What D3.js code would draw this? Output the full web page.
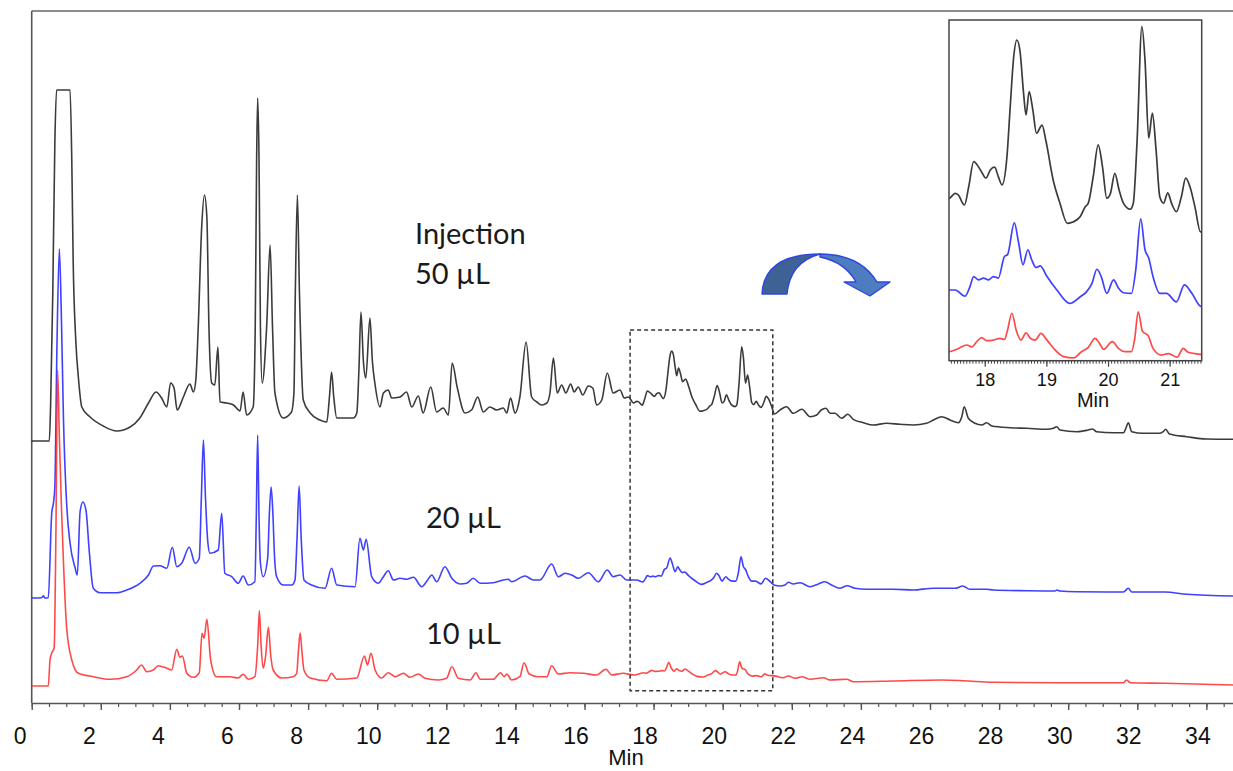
<!DOCTYPE html>
<html><head><meta charset="utf-8">
<script src="https://cdn.jsdelivr.net/npm/d3@7"></script>
<style>
html,body{margin:0;padding:0;background:#fff;}
svg{display:block;}
</style></head><body>
<svg id="chart" width="1233" height="771"></svg>
<script>
// ---------- DATA (time in min, signal in arbitrary units above each trace's baseline) ----------
const black50 = [[0,0],[0.51,0],[0.55,40],[0.61,148],[0.67,298],[0.72,351],[1.11,351],[1.16,281],[1.2,181],[1.28,98],[1.35,64],[1.45,34],[1.69,24],[2.07,15],[2.46,10],[2.85,14],[3.13,23],[3.38,38],[3.6,49],[3.76,43],[3.91,34],[4.02,58],[4.12,53],[4.21,31],[4.39,44],[4.58,57],[4.68,49],[4.75,61],[4.82,114],[4.92,214],[5.0,246],[5.07,224],[5.13,114],[5.21,58],[5.3,56],[5.39,94],[5.45,39],[5.64,38],[5.84,36],[6.03,30],[6.12,49],[6.22,26],[6.41,34],[6.47,114],[6.51,281],[6.54,343],[6.58,281],[6.62,114],[6.67,58],[6.8,114],[6.9,196],[6.97,114],[7.04,48],[7.28,23],[7.52,29],[7.59,48],[7.63,148],[7.69,246],[7.75,148],[7.86,41],[8.06,28],[8.34,21],[8.54,19],[8.62,45],[8.68,69],[8.74,45],[8.83,23],[9.31,23],[9.41,28],[9.47,70],[9.53,129],[9.6,80],[9.67,63],[9.79,123],[9.86,80],[9.94,56],[10.08,34],[10.18,48],[10.32,51],[10.42,43],[10.66,44],[10.85,49],[11.0,34],[11.19,45],[11.33,28],[11.55,54],[11.72,29],[11.91,33],[12.06,26],[12.17,78],[12.32,53],[12.54,28],[12.73,31],[12.91,44],[13.07,29],[13.26,34],[13.46,31],[13.65,33],[13.75,28],[13.86,43],[13.99,28],[14.13,44],[14.31,99],[14.47,44],[14.62,39],[14.76,36],[14.91,38],[15.0,48],[15.1,83],[15.21,48],[15.34,56],[15.46,48],[15.6,57],[15.7,49],[15.82,54],[15.95,46],[16.11,55],[16.24,53],[16.35,36],[16.5,41],[16.66,68],[16.83,48],[17.03,51],[17.15,43],[17.27,44],[17.42,38],[17.52,39.6],[17.57,39.1],[17.67,35.8],[17.74,41.8],[17.82,50],[17.93,47.3],[18.02,44.6],[18.09,47.3],[18.16,48.2],[18.22,45.1],[18.28,42.4],[18.36,51.6],[18.41,67],[18.47,84.4],[18.52,89.9],[18.57,86.6],[18.63,72.4],[18.67,65.3],[18.72,73],[18.78,67],[18.84,59.3],[18.93,62],[18.99,57.1],[19.11,44],[19.22,36.4],[19.34,29.8],[19.44,30.3],[19.55,32],[19.63,35.2],[19.68,36.4],[19.76,45.1],[19.84,55.5],[19.91,48.4],[19.98,38],[20.04,39.6],[20.11,46.2],[20.18,40.7],[20.25,36.4],[20.36,34.4],[20.41,36.4],[20.47,56.1],[20.55,94.3],[20.6,83.3],[20.66,57.7],[20.72,65.9],[20.78,53.8],[20.84,38.5],[20.9,36.4],[20.97,39.8],[21.03,36.4],[21.11,33.6],[21.19,38.5],[21.26,44.6],[21.33,41.8],[21.41,35.2],[21.5,27],[21.66,31],[21.85,34.3],[22.04,27.7],[22.29,31.7],[22.53,24.3],[22.72,26],[22.85,31],[22.99,32.7],[23.11,27.7],[23.25,27.7],[23.44,22.7],[23.62,26.7],[23.78,21.7],[24.07,18.3],[24.36,16],[24.75,17.7],[25.13,16.7],[25.52,16],[25.9,17.7],[26.1,21],[26.34,24.3],[26.58,21],[26.82,18.3],[26.92,24.3],[26.99,34.3],[27.11,22.7],[27.3,17.7],[27.5,16],[27.64,18.3],[27.79,15],[28.32,13.3],[28.8,12.7],[29.38,11.7],[29.57,12.7],[29.67,14.3],[29.76,11],[30.25,9.3],[30.58,11],[30.71,12],[30.82,9.3],[31.31,8.3],[31.6,8.3],[31.67,12.7],[31.74,18.3],[31.84,9.3],[32.17,7.7],[32.66,7.7],[32.75,9.3],[32.82,11.7],[32.93,7],[33.43,4.3],[34.0,2],[34.77,1.7]];

const blue20 = [[0,0],[0.29,0.3],[0.34,2.3],[0.38,0],[0.48,0.3],[0.58,85],[0.63,95],[0.67,111],[0.73,250],[0.8,349],[0.86,280],[0.92,178],[1.01,95],[1.11,55],[1.25,31],[1.32,23],[1.4,86],[1.48,96],[1.57,88],[1.67,45],[1.78,10],[1.98,5.3],[2.46,5.3],[2.75,8],[3.13,14.7],[3.38,23],[3.52,32],[3.71,32.3],[3.91,29.7],[4.07,50.7],[4.2,31.3],[4.34,34.7],[4.56,50.7],[4.73,34.7],[4.85,39.7],[4.91,100],[4.97,158],[5.03,100],[5.1,55],[5.16,44.7],[5.4,48],[5.5,84.7],[5.59,24.7],[5.79,21.3],[5.98,14.7],[6.12,22],[6.27,13],[6.46,16.3],[6.5,80],[6.54,163],[6.58,80],[6.62,35],[6.7,21.3],[6.83,40],[6.88,85],[6.93,111],[6.98,85],[7.03,40],[7.09,21.3],[7.28,13],[7.53,13],[7.62,18],[7.68,60],[7.74,112],[7.8,60],[7.88,18],[8.1,13],[8.49,9.7],[8.68,29.7],[8.83,13],[9.36,11.3],[9.5,59.7],[9.6,48],[9.68,58.7],[9.84,21.3],[10.03,14.7],[10.18,21.3],[10.32,27.3],[10.47,18],[10.66,19.7],[10.85,18.7],[11.05,20.7],[11.29,11.3],[11.46,18],[11.58,23],[11.72,16.3],[11.96,31.3],[12.16,19.7],[12.4,14],[12.59,14.7],[12.78,19.7],[12.98,14.7],[13.36,15.3],[13.65,18],[13.79,18.7],[13.89,16.3],[14.28,22],[14.52,18],[14.71,18],[15.05,34],[15.24,21.3],[15.44,24.7],[15.63,23],[15.82,19.7],[16.11,25.3],[16.4,16.3],[16.66,28],[16.83,21.3],[17.03,23],[17.22,18],[17.42,18],[17.52,18],[17.68,16],[17.76,19.1],[17.82,22.4],[17.9,21.3],[17.98,21.9],[18.06,21.3],[18.14,22.4],[18.22,21.9],[18.32,29],[18.37,29.6],[18.48,40],[18.55,33.4],[18.62,26.3],[18.7,31.2],[18.76,28],[18.83,25.4],[18.9,25.9],[19.01,22.4],[19.17,18],[19.38,13.6],[19.55,15.8],[19.65,17.4],[19.74,20.2],[19.82,24.8],[19.89,22.4],[19.98,16.9],[20.09,21.3],[20.17,18.6],[20.25,17.1],[20.38,16.9],[20.45,24.6],[20.53,41.3],[20.6,31.2],[20.66,28.5],[20.73,22.4],[20.84,16.9],[20.95,16.9],[21.11,14.1],[21.24,19.7],[21.36,16.9],[21.5,12.7],[21.66,12],[21.8,13],[21.9,15.7],[22.04,14],[22.24,15.3],[22.53,11.3],[22.77,14],[22.96,16.3],[23.15,13],[23.39,9.7],[23.6,12.3],[23.83,9.7],[24.17,8.7],[24.94,8.7],[25.52,8],[26.1,9.7],[26.73,9.7],[26.95,12],[27.15,8.7],[27.64,8.7],[27.83,8],[28.8,7.3],[29.62,7],[29.67,8],[29.76,7],[30.25,6.3],[31.6,6],[31.74,9.7],[31.84,6],[32.8,6],[33.43,3.7],[34.77,2]];

const red10 = [[0,0],[0.48,0],[0.53,26],[0.58,33],[0.65,38],[0.7,150],[0.75,316],[0.8,250],[0.86,180],[0.92,123],[1.01,59],[1.16,26],[1.35,12.7],[1.78,9.3],[2.27,6.7],[2.75,9.3],[3.04,16],[3.18,21],[3.33,14.3],[3.52,16],[3.66,20.3],[3.91,17.7],[4.05,16],[4.2,36.7],[4.29,28.7],[4.36,30],[4.49,12.7],[4.68,8.7],[4.85,13.3],[4.93,52.7],[4.99,47.7],[5.07,66.7],[5.18,26],[5.35,9.3],[5.74,9.3],[5.98,8],[6.12,11.7],[6.27,6.7],[6.46,9.3],[6.54,40],[6.59,75.3],[6.64,40],[6.7,17.7],[6.77,30],[6.85,58.7],[6.92,30],[6.99,16],[7.24,8],[7.57,9.3],[7.67,12.7],[7.72,35],[7.77,53.3],[7.82,35],[7.88,16],[8.06,8],[8.54,5.3],[8.68,12.7],[8.83,6.7],[9.41,8],[9.63,30],[9.72,21],[9.82,32.7],[9.94,16],[10.13,8],[10.32,13.3],[10.52,9.3],[10.76,12.7],[10.95,8.7],[11.19,12],[11.38,7.7],[11.77,6],[12.01,7.7],[12.16,19.3],[12.35,7.7],[12.69,6],[12.86,13.3],[12.98,6.7],[13.36,6.7],[13.57,13.3],[13.67,9.3],[13.75,12],[13.89,6],[14.13,9.3],[14.25,23.3],[14.4,12],[14.66,9.3],[14.91,9.3],[15.05,20.3],[15.24,12],[15.58,13.3],[15.97,12.7],[16.35,11],[16.62,16.7],[16.79,11],[17.12,12.7],[17.42,11],[17.55,11.8],[17.71,13.2],[17.79,12.6],[17.87,14.3],[17.95,15.6],[18.03,14.6],[18.14,14.8],[18.25,15.4],[18.32,15],[18.37,18.1],[18.44,23.6],[18.51,18.1],[18.59,14.8],[18.67,17.2],[18.74,15.4],[18.82,14.8],[18.91,17],[19.01,14.8],[19.14,11.6],[19.28,9.4],[19.44,9],[19.57,11],[19.68,12.4],[19.79,15.4],[19.86,13.8],[19.93,11.8],[20.07,14.3],[20.17,12.1],[20.28,11],[20.38,11],[20.43,14.8],[20.49,24.1],[20.56,17.6],[20.65,16.3],[20.73,12.1],[20.87,9.9],[20.98,10.4],[21.12,9.2],[21.22,12.1],[21.3,10.8],[21.5,10.1],[21.75,8.3],[21.9,10],[22.1,7.7],[22.29,9.3],[22.53,6.7],[22.92,8.3],[23.1,6],[23.59,6.7],[23.78,4.3],[24.94,5],[26.34,6],[26.97,5.3],[27.83,3.7],[29.76,3.3],[31.6,3.3],[31.69,6],[31.8,3.3],[32.8,2.7],[34.77,1]];

const majorTicks = [0,2,4,6,8,10,12,14,16,18,20,22,24,26,28,30,32,34];
const insetTicks = [18,19,20,21];
const zoomWindow = [17.32, 21.45];      // dashed box on the main chart
const insetDomain = [17.42, 21.52];     // x-range of the inset
const labels = [{text:"Injection", x:415, y:244},{text:"50 µL", x:415, y:284},{text:"20 µL", x:426, y:528},{text:"10 µL", x:426, y:644}];

const series = [
  {name:"50 µL", data:black50, color:"#262626", offset:262, insetOffset:15.25},
  {name:"20 µL", data:blue20,  color:"#2b2bff", offset:105, insetOffset:5.18},
  {name:"10 µL", data:red10,   color:"#ff3535", offset:17,  insetOffset:-8.05}
];

// ---------- LAYOUT ----------
const svg = d3.select('#chart');
const axisY = 703, plotTop = 11, leftX = 31.7, rightX = 1233;
const x = d3.scaleLinear().domain([0, 34.77]).range([leftX, rightX]);
const y = d3.scaleLinear().domain([0, 700]).range([axisY, axisY - 700]);

// frame lines (top and left)
svg.append('line').attr('x1',leftX).attr('x2',rightX).attr('y1',plotTop).attr('y2',plotTop)
  .attr('stroke','#666').attr('stroke-width',1.6);
svg.append('line').attr('x1',leftX).attr('x2',leftX).attr('y1',plotTop).attr('y2',axisY)
  .attr('stroke','#555').attr('stroke-width',1.6);

// traces
series.forEach(s => {
  const line = d3.line().x(d => x(d[0])).y(d => y(d[1] + s.offset)).curve(d3.curveMonotoneX);
  svg.append('path').datum(s.data).attr('d', line)
    .attr('fill','none').attr('stroke', s.color).attr('stroke-width',1.6)
    .attr('stroke-linejoin','round').attr('opacity',0.9);
});

// dashed zoom window
svg.append('rect').attr('x', x(zoomWindow[0])).attr('y', 330)
  .attr('width', x(zoomWindow[1]) - x(zoomWindow[0])).attr('height', 360.7)
  .attr('fill','none').attr('stroke','#333').attr('stroke-width',1.5).attr('stroke-dasharray','4,3');

// x axis: minor ticks
const minorAxis = d3.axisBottom(x).tickValues(d3.range(0, 34.8, 0.5)).tickSize(4).tickSizeOuter(0).tickFormat('');
svg.append('g').attr('transform',`translate(0,${axisY})`).call(minorAxis)
  .call(g => { g.select('.domain').attr('stroke','#555').attr('stroke-width',1.6); g.selectAll('.tick line').attr('stroke','#555').attr('stroke-width',1.2); });
const majorAxis = d3.axisBottom(x).tickValues(majorTicks).tickSize(7).tickSizeOuter(0).tickFormat(d3.format('d'));
svg.append('g').attr('transform',`translate(0,${axisY})`).call(majorAxis)
  .call(g => {
    g.select('.domain').remove();
    g.selectAll('.tick line').attr('stroke','#555').attr('stroke-width',1.4);
    g.selectAll('.tick text').attr('y',41).attr('dy',0)
      .attr('dx', d => String(d).length === 1 ? -12 : -9)
      .attr('font-family','"Liberation Sans", Arial, sans-serif').attr('font-size',23).attr('fill','#111');
  });
svg.append('text').attr('x',626).attr('y',765).attr('text-anchor','middle')
  .attr('font-family','"Liberation Sans", Arial, sans-serif').attr('font-size',22).attr('fill','#111').text('Min');

// annotation labels
labels.forEach(l => {
  svg.append('text').attr('x', l.x).attr('y', l.y).text(l.text)
    .attr('font-family','Lato, "Open Sans", sans-serif').attr('font-size',29).attr('fill','#1a1a1a');
});

// curved arrow
const arrow = svg.append('g');
arrow.append('path').attr('d','M762,294 Q764,254 820,254 Q790,262 787,294 Z')
  .attr('fill','#3e6296').attr('stroke','#2f45e0').attr('stroke-width',1.4).attr('stroke-linejoin','round');
arrow.append('path').attr('d','M820,254 Q860,254 877,282 L890,282 L870,296 L844,282 L856,282 Q845,262 820,257 Z')
  .attr('fill','#4d7cbf').attr('stroke','#2f45e0').attr('stroke-width',1.4).attr('stroke-linejoin','round');

// ---------- INSET ----------
const ib = {x0:949, x1:1201.7, y0:20, y1:360.7};
const ix = d3.scaleLinear().domain(insetDomain).range([ib.x0, ib.x1]);
const iy = d3.scaleLinear().domain([0, 100]).range([ib.y1, ib.y1 - 305]);
svg.append('rect').attr('x',ib.x0).attr('y',ib.y0).attr('width',ib.x1-ib.x0).attr('height',ib.y1-ib.y0)
  .attr('fill','#fff');
svg.append('clipPath').attr('id','insetClip').append('rect')
  .attr('x',ib.x0).attr('y',ib.y0).attr('width',ib.x1-ib.x0).attr('height',ib.y1-ib.y0);
const ig = svg.append('g').attr('clip-path','url(#insetClip)');
series.forEach(s => {
  const line = d3.line().x(d => ix(d[0])).y(d => iy(d[1] + s.insetOffset)).curve(d3.curveMonotoneX);
  ig.append('path').datum(s.data.filter(d => d[0] >= insetDomain[0]-0.3 && d[0] <= insetDomain[1]+0.3))
    .attr('d', line).attr('fill','none').attr('stroke', s.color).attr('stroke-width',1.7)
    .attr('stroke-linejoin','round').attr('opacity',0.9);
});
svg.append('rect').attr('x',ib.x0).attr('y',ib.y0).attr('width',ib.x1-ib.x0).attr('height',ib.y1-ib.y0)
  .attr('fill','none').attr('stroke','#444').attr('stroke-width',1.5);
const iMinor = d3.axisBottom(ix).tickValues(d3.range(17.45, 21.52, 0.05)).tickSize(3).tickSizeOuter(0).tickFormat('');
svg.append('g').attr('transform',`translate(0,${ib.y1})`).call(iMinor)
  .call(g => { g.select('.domain').remove(); g.selectAll('.tick line').attr('stroke','#444'); });
const iMajor = d3.axisBottom(ix).tickValues(insetTicks).tickSize(6).tickSizeOuter(0).tickFormat(d3.format('d'));
svg.append('g').attr('transform',`translate(0,${ib.y1})`).call(iMajor)
  .call(g => {
    g.select('.domain').remove();
    g.selectAll('.tick line').attr('stroke','#444').attr('stroke-width',1.2);
    g.selectAll('.tick text').attr('y',25.5).attr('dy',0)
      .attr('font-family','"Liberation Sans", Arial, sans-serif').attr('font-size',18).attr('fill','#111');
  });
svg.append('text').attr('x',1093).attr('y',407).attr('text-anchor','middle')
  .attr('font-family','"Liberation Sans", Arial, sans-serif').attr('font-size',20).attr('fill','#111').text('Min');
</script>
</body></html>
